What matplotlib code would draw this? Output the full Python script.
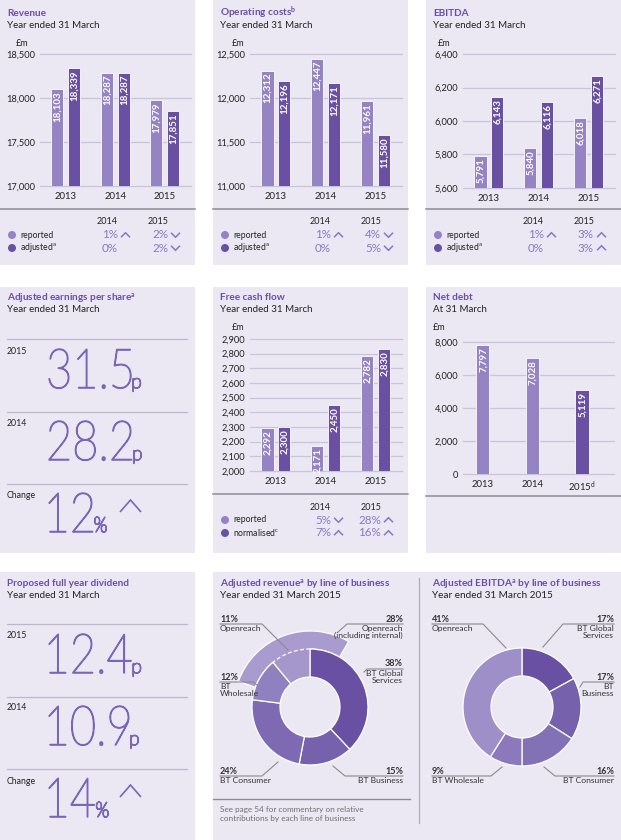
import matplotlib
matplotlib.use('Agg')
import matplotlib.pyplot as plt
from matplotlib.patches import Rectangle, Wedge, Circle, PathPatch, Arc
from matplotlib.textpath import TextPath
from matplotlib.font_manager import FontProperties
from matplotlib.transforms import Affine2D
import numpy as np

plt.rcParams['font.family'] = ['Lato', 'DejaVu Sans']
plt.rcParams['mathtext.fontset'] = 'custom'
plt.rcParams['mathtext.rm'] = 'Lato'
plt.rcParams['mathtext.it'] = 'Lato'
plt.rcParams['mathtext.bf'] = 'Lato:bold'

# ---- data ----
years = ['2013', '2014', '2015']
change_years = ['2014', '2015']

revenue_reported = [18103, 18287, 17979]
revenue_adjusted = [18339, 18287, 17851]
revenue_change_reported = [('1%', 'up'), ('2%', 'down')]
revenue_change_adjusted = [('0%', None), ('2%', 'down')]

opcost_reported = [12312, 12447, 11961]
opcost_adjusted = [12196, 12171, 11580]
opcost_change_reported = [('1%', 'up'), ('4%', 'down')]
opcost_change_adjusted = [('0%', None), ('5%', 'down')]

ebitda_reported = [5791, 5840, 6018]
ebitda_adjusted = [6143, 6116, 6271]
ebitda_change_reported = [('1%', 'up'), ('3%', 'up')]
ebitda_change_adjusted = [('0%', None), ('3%', 'up')]

fcf_reported = [2292, 2171, 2782]
fcf_normalised = [2300, 2450, 2830]
fcf_change_reported = [('5%', 'down'), ('28%', 'up')]
fcf_change_normalised = [('7%', 'up'), ('16%', 'up')]

net_debt = [7797, 7028, 5119]
net_debt_years = ['2013', '2014', r'2015$^{\mathrm{d}}$']

eps_years = ['2015', '2014']
eps_values = ['31.5', '28.2']
eps_change = '12'

dividend_years = ['2015', '2014']
dividend_values = ['12.4', '10.9']
dividend_change = '14'

rev_lob_names = ['BT Global\nServices', 'BT Business', 'BT Consumer', 'BT\nWholesale', 'Openreach']
rev_lob_share = [38, 15, 24, 12, 11]
openreach_internal_share = 28

ebitda_lob_names = ['BT Global\nServices', 'BT\nBusiness', 'BT Consumer', 'BT Wholesale', 'Openreach']
ebitda_lob_share = [17, 17, 16, 9, 41]

# ---- style ----
W, H = 621, 840
PANEL = '#ebe8f4'
PURPLE = '#6a4ea6'
LIGHT = '#9583c3'
DARK = '#6a50a3'
PCT = '#8b76c2'
BIG = '#7b66b6'
GRID = '#c9c4d8'
SEP = '#8e8c99'
TEXT = '#222222'
LEADER = '#8a8a8a'

fig = plt.figure(figsize=(W / 100, H / 100), dpi=100)


def fig_rect(x0, y0, x1, y1):
    return [x0 / W, 1 - y1 / H, (x1 - x0) / W, (y1 - y0) / H]


def pixel_axes(z):
    a = fig.add_axes([0, 0, 1, 1], zorder=z)
    a.set_xlim(0, W)
    a.set_ylim(H, 0)
    a.axis('off')
    return a


bg = pixel_axes(0)
top = pixel_axes(5)

# panel backgrounds
for (x0, y0, x1, y1) in [(0, 0, 195, 265), (213, 0, 408, 265), (426, 0, 621, 265),
                         (0, 287, 195, 553), (213, 287, 408, 553), (426, 287, 621, 553),
                         (0, 572, 195, 840), (213, 572, 621, 840)]:
    bg.add_patch(Rectangle((x0, y0), x1 - x0, y1 - y0, color=PANEL, lw=0))


def chevron(x, y, direction, w=9, h=4.5, color=PCT, lw=1.1):
    if direction == 'up':
        ys = [y + h / 2, y - h / 2, y + h / 2]
    else:
        ys = [y - h / 2, y + h / 2, y - h / 2]
    top.plot([x, x + w / 2, x + w], ys, color=color, lw=lw, solid_joinstyle='miter',
             solid_capstyle='butt')


def titles(px, py, title, subtitle):
    top.text(px + 7, py + 13, title, fontsize=7.2, fontweight='bold', color=PURPLE, va='center')
    top.text(px + 7, py + 25, subtitle, fontsize=7.0, color=TEXT, va='center')


def bar_axes(rect, ylim, ticks, xlim, xlabels):
    ax = fig.add_axes(fig_rect(*rect), zorder=2)
    ax.patch.set_visible(False)
    ax.set_xlim(xlim)
    ax.set_ylim(ylim)
    ax.set_yticks(ticks)
    ax.set_yticklabels([f'{t:,}' for t in ticks])
    ax.set_xticks(range(len(xlabels)))
    ax.set_xticklabels(xlabels)
    for t in ticks:
        ax.axhline(t, color=GRID, lw=0.9, zorder=0, clip_on=False)
    for s in ax.spines.values():
        s.set_visible(False)
    ax.tick_params(length=0, colors=TEXT)
    ax.tick_params(axis='x', labelsize=6.9, pad=4)
    ax.tick_params(axis='y', labelsize=6.7, pad=3.5)
    return ax


def bars(ax, xs, values, colors, width):
    ax.bar(xs, values, width, color=colors, edgecolor='white', lw=0.6, zorder=3)
    for x, v in zip(xs, values):
        ax.annotate(f'{v:,}', (x, v), xytext=(0.3, -1.6), textcoords='offset points',
                    rotation=90, ha='center', va='top', color='white', fontsize=7.0,
                    fontweight='bold', annotation_clip=False, zorder=4)


def change_block(px, py, labels, rows):
    top.plot([px, px + 195], [py + 209, py + 209], color=SEP, lw=1.1)
    for cx, yr in zip([px + 107, px + 158], change_years):
        top.text(cx, py + 222, yr, ha='center', va='center', fontsize=6.5, color=TEXT)
    for i, (lab, color, row) in enumerate(zip(labels, [LIGHT, DARK], rows)):
        y = py + 235 + 13 * i
        top.add_patch(Circle((px + 12, y), 4, color=color, lw=0))
        top.text(px + 20, y, lab, va='center', fontsize=6.2, color=TEXT)
        for rx, (val, d) in zip([px + 118, px + 168], row):
            top.text(rx, y, val, ha='right', va='center', fontsize=8.4, color=PCT)
            if d:
                chevron(rx + 3, y, d)


def bar_panel(px, py, title, rect, ylim, ticks, unit_x, reported, adjusted, labels, rows):
    titles(px, py, title, 'Year ended 31 March')
    top.text(unit_x, py + 43, '£m', ha='center', va='center', fontsize=6.5, color=TEXT)
    ax = bar_axes(rect, ylim, ticks, (-0.52, 2.53), years)
    x = np.arange(len(years))
    bars(ax, x - 0.17, reported, LIGHT, 0.245)
    bars(ax, x + 0.17, adjusted, DARK, 0.245)
    change_block(px, py, labels, rows)


# ---- row 1 and 2 bar panels ----
bar_panel(0, 0, 'Revenue', (40, 54, 191, 186), (17000, 18500), [17000, 17500, 18000, 18500], 22,
          revenue_reported, revenue_adjusted, ['reported', r'adjusted$^{\mathrm{a}}$'],
          [revenue_change_reported, revenue_change_adjusted])
bar_panel(213, 0, r'Operating costs$^{\mathbf{b}}$', (250, 54, 402, 186), (11000, 12500),
          [11000, 11500, 12000, 12500], 238, opcost_reported, opcost_adjusted,
          ['reported', r'adjusted$^{\mathrm{a}}$'], [opcost_change_reported, opcost_change_adjusted])
bar_panel(426, 0, 'EBITDA', (463, 54, 615, 188), (5600, 6400), [5600, 5800, 6000, 6200, 6400], 444,
          ebitda_reported, ebitda_adjusted, ['reported', r'adjusted$^{\mathrm{a}}$'],
          [ebitda_change_reported, ebitda_change_adjusted])
bar_panel(213, 285, 'Free cash flow', (250, 339, 402, 471), (2000, 2900), list(range(2000, 2901, 100)),
          238, fcf_reported, fcf_normalised, ['reported', r'normalised$^{\mathrm{c}}$'],
          [fcf_change_reported, fcf_change_normalised])

# net debt
titles(426, 285, 'Net debt', 'At 31 March')
top.text(439, 328, '£m', ha='center', va='center', fontsize=6.5, color=TEXT)
ax_nd = bar_axes((463, 342, 614, 474), (0, 8000), [0, 2000, 4000, 6000, 8000], (-0.40, 2.65),
                 net_debt_years)
bars(ax_nd, np.arange(3), net_debt, [LIGHT, LIGHT, DARK], 0.27)
top.plot([426, 621], [496, 496], color=SEP, lw=1.1)

# ---- big number panels ----
BIG_FONT = FontProperties(family=['Lato', 'DejaVu Sans'], weight='light')


def big_text(s, x0, base, height, cond, size_ref='0'):
    # draw a light numeral as a path, scaled to a given digit height
    path = TextPath((0, 0), s, size=1, prop=BIG_FONT)
    ref = TextPath((0, 0), size_ref, size=1, prop=BIG_FONT).get_extents()
    sy = height / ref.y1
    sx = sy * cond
    ext = path.get_extents()
    tr = Affine2D().translate(-ext.x0, 0).scale(sx, -sy).translate(x0, base)
    top.add_patch(PathPatch(tr.transform_path(path), facecolor=BIG, edgecolor=BIG, lw=1.0,
                            joinstyle='round'))
    return x0 + ext.width * sx


ref_ext = TextPath((0, 0), '31.5', size=1, prop=BIG_FONT).get_extents()
ref0 = TextPath((0, 0), '0', size=1, prop=BIG_FONT).get_extents()
COND = 82 / (ref_ext.width * 39 / ref0.y1)


def big_panel(py, title, yrs, values, change):
    titles(0, py, title, 'Year ended 31 March')
    for y in [py + 54, py + 127, py + 199]:
        top.plot([7, 187], [y, y], color='#bdb8cb', lw=0.9)
    for y, lab in zip([py + 66, py + 138, py + 211], yrs + ['Change']):
        top.text(7, y, lab, fontsize=6.3, color=TEXT, va='center')
    for base, val in zip([py + 103, py + 175], values):
        xe = big_text(val, 49, base, 39, COND)
        big_text('p', xe + 2, base, 9.5, 1.0, size_ref='x')
    base = py + 247
    xe = big_text(change, 49, base, 39, COND)
    big_text('%', xe + 2, base, 15, 0.85, size_ref='%')
    chevron(120, base - 26, 'up', w=21, h=12, color=BIG, lw=1.2)


big_panel(285, r'Adjusted earnings per share$^{\mathbf{a}}$', eps_years, eps_values, eps_change)
big_panel(570, 'Proposed full year dividend', dividend_years, dividend_values, dividend_change)

# ---- donut panels ----
REV_COLORS = ['#6a50a3', '#7661ac', '#7e6ab2', '#8f80c0', '#a597cc']
EBITDA_COLORS = ['#6a50a3', '#7661ac', '#8371b6', '#8b79bb', '#9e8fc8']


def donut(cx, cy, shares, colors, r=58, w=28):
    ax = fig.add_axes(fig_rect(cx - 90, cy - 90, cx + 90, cy + 90), zorder=2)
    ax.pie(shares, colors=colors, startangle=90, counterclock=False, radius=r,
           wedgeprops=dict(width=w, edgecolor='white', linewidth=0.9))
    ax.set_xlim(-90, 90)
    ax.set_ylim(-90, 90)
    ax.set_aspect('equal')
    return ax


def donut_title(x, title):
    top.text(x, 584, title, fontsize=7.3, fontweight='bold', color=PURPLE, va='center')
    top.text(x, 596, 'Year ended 31 March 2015', fontsize=7.2, color=TEXT, va='center')


def lob_label(pct, name, x, y, side, line):
    ha = 'left' if side == 'left' else 'right'
    top.text(x, y, pct, ha=ha, va='center', fontsize=6.5, fontweight='bold', color='#333333')
    top.text(x, y + 6, name, ha=ha, va='top', fontsize=6.1, color='#333333', linespacing=1.05)
    xs, ys = zip(*line)
    top.plot(xs, ys, color=LEADER, lw=0.8)


donut_title(220, r'Adjusted revenue$^{\mathbf{a}}$ by line of business')
ax_r = donut(310, 707, rev_lob_share, REV_COLORS)
open_start = 90 - 360 * sum(rev_lob_share[:-1]) / 100 + 360
open_mid = (open_start + 90) / 2
half = 360 * openreach_internal_share / 100 / 2
ax_r.add_patch(Wedge((0, 0), 76, open_mid - half, open_mid + half, width=18,
                     facecolor='#a99bcf', edgecolor='white', lw=0.9, zorder=0))
ax_r.add_patch(Arc((0, 0), 116, 116, theta1=90.5, theta2=open_start - 0.5, color='#a89acf', lw=1.6,
                   zorder=3))
ax_r.add_patch(Arc((0, 0), 116, 116, theta1=90, theta2=open_start, color='white', lw=0.9,
                   linestyle=(0, (3, 2)), zorder=4))

rev_label_pos = [(403, 664, 'right', [(403, 669), (367, 669), (364, 672)]),
                 (403, 771, 'right', [(403, 776), (345, 776), (333, 766)]),
                 (220, 771, 'left', [(220, 776), (262, 776), (278, 762)]),
                 (220, 677, 'left', [(220, 682), (253, 682), (257, 685)]),
                 (220, 619, 'left', [(220, 624), (262, 624), (288, 650)])]
for share, name, (x, y, side, line) in zip(rev_lob_share, rev_lob_names, rev_label_pos):
    lob_label(f'{share}%', name, x, y, side, line)
lob_label(f'{openreach_internal_share}%', 'Openreach\n(including internal)', 403, 619, 'right',
          [(403, 624), (347, 624), (338, 632)])

top.plot([213, 410], [799, 799], color=SEP, lw=1.0)
top.text(220, 806, 'See page 54 for commentary on relative\ncontributions by each line of business',
         fontsize=5.9, color='#6e6e6e', va='top', linespacing=1.25)
top.plot([419, 419], [578, 823], color='#b0adb9', lw=0.9)

donut_title(432, r'Adjusted EBITDA$^{\mathbf{a}}$ by line of business')
donut(522, 707, ebitda_lob_share, EBITDA_COLORS, r=59, w=28)
ebitda_label_pos = [(614, 619, 'right', [(614, 624), (563, 624), (543, 647)]),
                    (614, 677, 'right', [(614, 682), (583, 682), (580, 687)]),
                    (614, 771, 'right', [(614, 776), (555, 776), (544, 767)]),
                    (432, 771, 'left', [(432, 776), (491, 776), (502, 767)]),
                    (432, 619, 'left', [(432, 624), (483, 624), (506, 648)])]
for share, name, (x, y, side, line) in zip(ebitda_lob_share, ebitda_lob_names, ebitda_label_pos):
    lob_label(f'{share}%', name, x, y, side, line)

fig.savefig('out.png', dpi=100)
